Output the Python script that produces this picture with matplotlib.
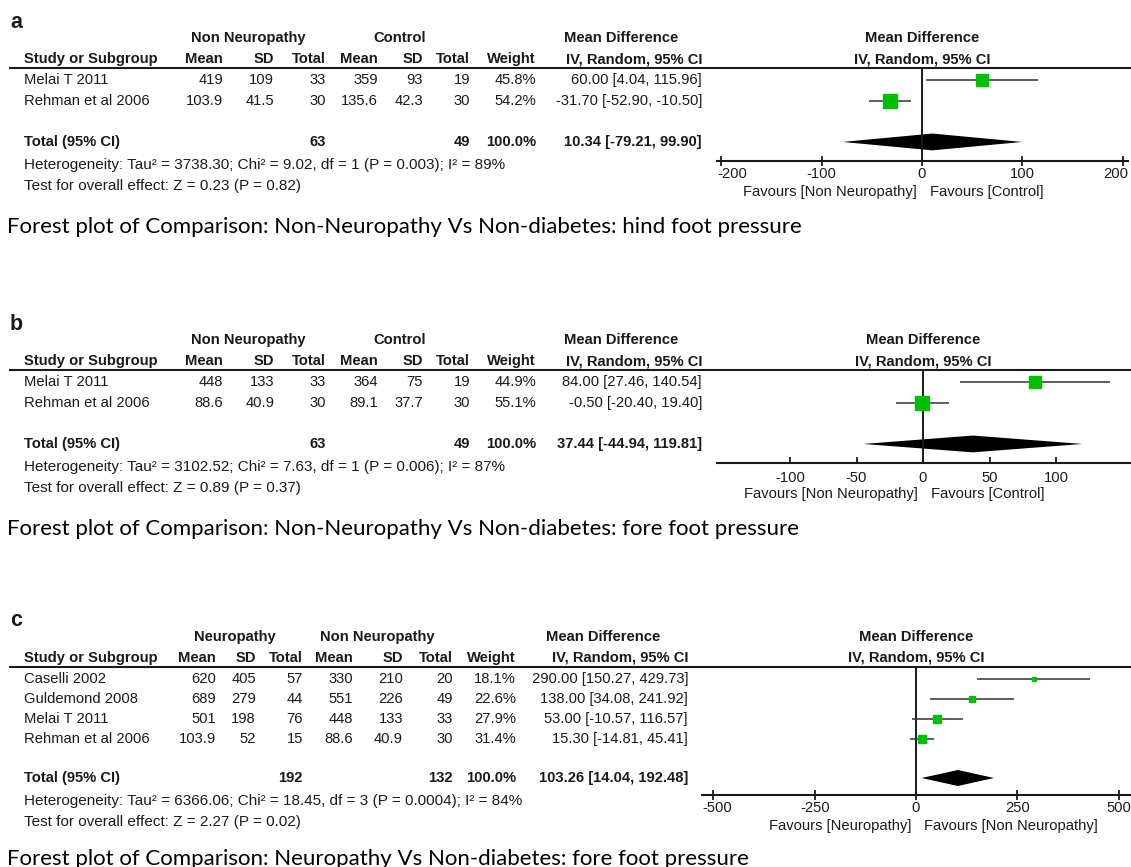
import matplotlib
matplotlib.use("Agg")
import matplotlib.pyplot as plt
from matplotlib.patches import Polygon
from matplotlib.transforms import ScaledTranslation

W, H = 1131, 867
FONT = ["Liberation Sans", "DejaVu Sans"]
CAPTION_FONT = ["Lato", "DejaVu Sans"]
FS = 10.6
INK = "#1a1a1a"
GREEN = "#00c000"

plt.rcParams["font.family"] = FONT

# ---- panel a: hind foot pressure, non neuropathy vs control
a_studies = ["Melai T 2011", "Rehman et al 2006"]
a_mean1 = [419, 103.9]
a_sd1 = [109, 41.5]
a_n1 = [33, 30]
a_mean2 = [359, 135.6]
a_sd2 = [93, 42.3]
a_n2 = [19, 30]
a_weight = [45.8, 54.2]
a_md = [60.00, -31.70]
a_lo = [4.04, -52.90]
a_hi = [115.96, -10.50]
a_totals = [63, 49]
a_pooled = [10.34, -79.21, 99.90]
a_groups = ["Non Neuropathy", "Control"]
a_favours = ["Favours [Non Neuropathy]", "Favours [Control]"]
a_ticks = [-200, -100, 0, 100, 200]
a_het = "Heterogeneity: Tau\u00b2 = 3738.30; Chi\u00b2 = 9.02, df = 1 (P = 0.003); I\u00b2 = 89%"
a_test = "Test for overall effect: Z = 0.23 (P = 0.82)"
a_caption = "Forest plot of Comparison: Non-Neuropathy Vs Non-diabetes: hind foot pressure"

# ---- panel b: fore foot pressure, non neuropathy vs control
b_studies = ["Melai T 2011", "Rehman et al 2006"]
b_mean1 = [448, 88.6]
b_sd1 = [133, 40.9]
b_n1 = [33, 30]
b_mean2 = [364, 89.1]
b_sd2 = [75, 37.7]
b_n2 = [19, 30]
b_weight = [44.9, 55.1]
b_md = [84.00, -0.50]
b_lo = [27.46, -20.40]
b_hi = [140.54, 19.40]
b_totals = [63, 49]
b_pooled = [37.44, -44.94, 119.81]
b_groups = ["Non Neuropathy", "Control"]
b_favours = ["Favours [Non Neuropathy]", "Favours [Control]"]
b_ticks = [-100, -50, 0, 50, 100]
b_het = "Heterogeneity: Tau\u00b2 = 3102.52; Chi\u00b2 = 7.63, df = 1 (P = 0.006); I\u00b2 = 87%"
b_test = "Test for overall effect: Z = 0.89 (P = 0.37)"
b_caption = "Forest plot of Comparison: Non-Neuropathy Vs Non-diabetes: fore foot pressure"

# ---- panel c: fore foot pressure, neuropathy vs non neuropathy
c_studies = ["Caselli 2002", "Guldemond 2008", "Melai T 2011", "Rehman et al 2006"]
c_mean1 = [620, 689, 501, 103.9]
c_sd1 = [405, 279, 198, 52]
c_n1 = [57, 44, 76, 15]
c_mean2 = [330, 551, 448, 88.6]
c_sd2 = [210, 226, 133, 40.9]
c_n2 = [20, 49, 33, 30]
c_weight = [18.1, 22.6, 27.9, 31.4]
c_md = [290.00, 138.00, 53.00, 15.30]
c_lo = [150.27, 34.08, -10.57, -14.81]
c_hi = [429.73, 241.92, 116.57, 45.41]
c_totals = [192, 132]
c_pooled = [103.26, 14.04, 192.48]
c_groups = ["Neuropathy", "Non Neuropathy"]
c_favours = ["Favours [Neuropathy]", "Favours [Non Neuropathy]"]
c_ticks = [-500, -250, 0, 250, 500]
c_het = "Heterogeneity: Tau\u00b2 = 6366.06; Chi\u00b2 = 18.45, df = 3 (P = 0.0004); I\u00b2 = 84%"
c_test = "Test for overall effect: Z = 2.27 (P = 0.02)"
c_caption = "Forest plot of Comparison: Neuropathy Vs Non-diabetes: fore foot pressure"

# layout in pixels (y measured from the top)
lay_a = dict(letter="a", top=0, cols=[223, 274, 326, 378, 423, 470, 536, 702],
             groups=[248, 400, 621], row0=80, sp=21, axis=161, ax_l=717, ax_r=1128,
             zero=922, ppu=1.003, tickdir="inout", ticklen=7.0, tickpad=0.5, caption=227)
lay_b = dict(letter="b", top=302, cols=[223, 274, 326, 378, 423, 470, 536, 702],
             groups=[248, 400, 621], row0=80, sp=21, axis=161, ax_l=717, ax_r=1131,
             zero=923, ppu=1.33, tickdir="in", ticklen=4.5, tickpad=6.0, caption=227)
lay_c = dict(letter="c", top=598, cols=[216, 256, 303, 353, 403, 453, 516, 688],
             groups=[235, 377, 603], row0=81, sp=20, axis=197, ax_l=702, ax_r=1131,
             zero=916, ppu=0.4052, tickdir="inout", ticklen=7.0, tickpad=0.5, caption=261)

fig = plt.figure(figsize=(W / 100, H / 100), dpi=100)
base = fig.add_axes([0, 0, 1, 1])
base.set_xlim(0, W)
base.set_ylim(H, 0)
base.axis("off")
forest_axes = []


def txt(x, y, s, ha="left", bold=False, size=FS, **kw):
    base.text(x, y, s, ha=ha, va="center", fontsize=size, color=INK,
              fontweight="bold" if bold else "normal", **kw)


def num(v):
    return f"{v:g}"


def panel(lay, studies, mean1, sd1, n1, mean2, sd2, n2, weight, md, lo, hi,
          totals, pooled, groups, favours, ticks, het, test, caption):
    t = lay["top"]
    n = len(studies)
    row = lambda i: t + lay["row0"] + i * lay["sp"]
    line_y = t + lay["row0"] - 12
    axis_y = t + lay["axis"]
    total_i = n + 0.95
    cols = lay["cols"]

    txt(10, t + 22, lay["letter"], bold=True, size=15.5)
    # headers
    txt(lay["groups"][0], line_y - 30, groups[0], ha="center", bold=True)
    txt(lay["groups"][1], line_y - 30, groups[1], ha="center", bold=True)
    txt(lay["groups"][2], line_y - 30, "Mean Difference", ha="center", bold=True)
    txt(lay["zero"], line_y - 30, "Mean Difference", ha="center", bold=True)
    txt(24, line_y - 9, "Study or Subgroup", bold=True)
    for x, s in zip(cols, ["Mean", "SD", "Total", "Mean", "SD", "Total", "Weight",
                           "IV, Random, 95% CI"]):
        txt(x, line_y - 9, s, ha="right", bold=True)
    txt(lay["zero"], line_y - 9, "IV, Random, 95% CI", ha="center", bold=True)
    base.plot([10, W], [line_y, line_y], color=INK, lw=1.5)

    # study rows
    for i in range(n):
        y = row(i)
        txt(24, y, studies[i])
        vals = [num(mean1[i]), num(sd1[i]), str(n1[i]), num(mean2[i]), num(sd2[i]),
                str(n2[i]), f"{weight[i]:.1f}%",
                f"{md[i]:.2f} [{lo[i]:.2f}, {hi[i]:.2f}]"]
        for x, s in zip(cols, vals):
            txt(x, y, s, ha="right")

    # total row
    yt = row(total_i)
    txt(24, yt, "Total (95% CI)", bold=True)
    txt(cols[2], yt, str(totals[0]), ha="right", bold=True)
    txt(cols[5], yt, str(totals[1]), ha="right", bold=True)
    txt(cols[6], yt, "100.0%", ha="right", bold=True)
    txt(cols[7], yt, f"{pooled[0]:.2f} [{pooled[1]:.2f}, {pooled[2]:.2f}]", ha="right", bold=True)
    txt(24, yt + 23, het, size=11.0)
    txt(24, yt + 44, test, size=11.0)

    # forest plot
    ax = fig.add_axes([lay["ax_l"] / W, 1 - axis_y / H,
                       (lay["ax_r"] - lay["ax_l"]) / W, (axis_y - line_y) / H])
    ax.patch.set_alpha(0)
    ax.set_ylim((axis_y - t - lay["row0"]) / lay["sp"], (line_y - t - lay["row0"]) / lay["sp"])
    ax.set_xlim((lay["ax_l"] - lay["zero"]) / lay["ppu"], (lay["ax_r"] - lay["zero"]) / lay["ppu"])
    ax.axvline(0, color=INK, lw=1.4)
    ax.hlines(range(n), lo, hi, color="#333333", lw=1.1)
    for i in range(n):
        ax.plot(md[i], i, "s", color=GREEN, mec=GREEN, ms=0.27 * weight[i] * 0.72)
    est, plo, phi = pooled
    ax.add_patch(Polygon([(plo, total_i), (est, total_i - 0.4), (phi, total_i),
                          (est, total_i + 0.4)], closed=True, color="black", lw=0))
    for s in ["top", "left", "right"]:
        ax.spines[s].set_visible(False)
    ax.spines["bottom"].set_linewidth(1.5)
    ax.spines["bottom"].set_color(INK)
    ax.set_yticks([])
    ax.set_xticks(ticks)
    ax.set_xticklabels([str(v) for v in ticks])
    ax.tick_params(axis="x", direction=lay["tickdir"], length=lay["ticklen"], width=1.3,
                   color=INK, labelsize=FS, labelcolor=INK, pad=lay["tickpad"])
    forest_axes.append(ax)

    txt(lay["zero"] - 5, axis_y + 31, favours[0], ha="right")
    txt(lay["zero"] + 8, axis_y + 31, favours[1], ha="left")

    base.text(7, t + lay["caption"], caption, ha="left", va="center", fontsize=16,
              color="black", family=CAPTION_FONT)


panel(lay_a, a_studies, a_mean1, a_sd1, a_n1, a_mean2, a_sd2, a_n2, a_weight, a_md,
      a_lo, a_hi, a_totals, a_pooled, a_groups, a_favours, a_ticks, a_het, a_test, a_caption)
panel(lay_b, b_studies, b_mean1, b_sd1, b_n1, b_mean2, b_sd2, b_n2, b_weight, b_md,
      b_lo, b_hi, b_totals, b_pooled, b_groups, b_favours, b_ticks, b_het, b_test, b_caption)
panel(lay_c, c_studies, c_mean1, c_sd1, c_n1, c_mean2, c_sd2, c_n2, c_weight, c_md,
      c_lo, c_hi, c_totals, c_pooled, c_groups, c_favours, c_ticks, c_het, c_test, c_caption)

# keep the outer tick labels inside the axis line, as RevMan does
fig.canvas.draw()
r = fig.canvas.get_renderer()
for ax in forest_axes:
    box = ax.get_window_extent(r)
    for lab in ax.get_xticklabels():
        bb = lab.get_window_extent(r)
        dx = 0
        if bb.x0 < box.x0:
            dx = box.x0 - bb.x0
        elif bb.x1 > box.x1:
            dx = box.x1 - bb.x1
        if dx:
            lab.set_transform(lab.get_transform() + ScaledTranslation(dx / fig.dpi, 0, fig.dpi_scale_trans))

fig.savefig("out.png", dpi=100)
